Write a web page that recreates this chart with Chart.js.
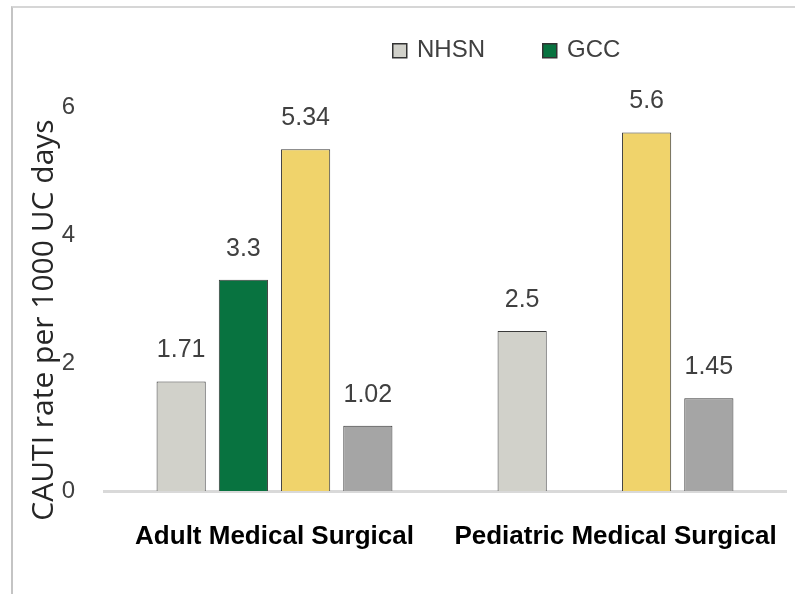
<!DOCTYPE html>
<html>
<head>
<meta charset="utf-8">
<script src="https://cdn.jsdelivr.net/npm/chart.js@4/dist/chart.umd.min.js"></script>
<style>
  body { margin: 0; background: #fff; }
  #wrap { position: relative; width: 795px; height: 594px; overflow: hidden; }
  #frame {
    position: absolute; left: 11px; top: 6px; width: 900px; height: 700px;
    border-left: 2px solid #c4c4c4; border-top: 2px solid #d6d6d6;
  }
  canvas { position: absolute; left: 0; top: 0; }
</style>
</head>
<body>
<div id="wrap">
  <div id="frame"></div>
  <canvas id="chart" width="795" height="594"></canvas>
</div>
<script>
const categories = ["Adult Medical Surgical", "Pediatric Medical Surgical"];
const nhsnValues = [1.71, 2.5];
const gccValues = [3.3, null];
const series3Values = [5.34, 5.6];
const series4Values = [1.02, 1.45];
const yTicks = [0, 2, 4, 6];

const sans = "'Liberation Sans', Arial, sans-serif";
const textColor = "#404040";

// value labels above each bar
const valueLabels = {
  id: "valueLabels",
  afterDatasetsDraw(chart) {
    const ctx = chart.ctx;
    ctx.save();
    ctx.font = "25px " + sans;
    ctx.fillStyle = textColor;
    ctx.textAlign = "center";
    ctx.textBaseline = "middle";
    chart.data.datasets.forEach((ds, i) => {
      chart.getDatasetMeta(i).data.forEach((bar, j) => {
        const v = ds.data[j];
        if (v === null || v === undefined) return;
        ctx.fillText(String(v), bar.x, bar.y - 31);
      });
    });
    ctx.restore();
  }
};

// legend only shows the first two series, sits right of centre
const sideLegend = {
  id: "sideLegend",
  afterDraw(chart) {
    const ctx = chart.ctx;
    const items = [
      { ds: chart.data.datasets[0], x: 392 },
      { ds: chart.data.datasets[1], x: 542 }
    ];
    ctx.save();
    ctx.font = "24px " + sans;
    ctx.textBaseline = "middle";
    items.forEach(it => {
      ctx.fillStyle = it.ds.backgroundColor;
      ctx.strokeStyle = "#333";
      ctx.lineWidth = 1.5;
      ctx.fillRect(it.x, 43, 15, 15);
      ctx.strokeRect(it.x + 0.75, 43.75, 14, 14);
      ctx.fillStyle = textColor;
      ctx.fillText(it.ds.label, it.x + 25, 50);
    });
    ctx.restore();
  }
};

// y axis title drawn a little below centre like the original
const yTitle = {
  id: "yTitle",
  afterDraw(chart) {
    const ctx = chart.ctx;
    ctx.save();
    ctx.translate(53, 320);
    ctx.rotate(-Math.PI / 2);
    ctx.font = "30px 'Open Sans', sans-serif";
    ctx.fillStyle = "#262626";
    ctx.textAlign = "center";
    ctx.textBaseline = "alphabetic";
    ctx.fillText("CAUTI rate per 1000 UC days", 0, 0);
    ctx.restore();
  }
};

new Chart(document.getElementById("chart"), {
  type: "bar",
  data: {
    labels: categories,
    datasets: [
      { label: "NHSN", data: nhsnValues, backgroundColor: "#d1d1ca" },
      { label: "GCC", data: gccValues, backgroundColor: "#087340" },
      { label: "Series 3", data: series3Values, backgroundColor: "#f0d36b" },
      { label: "Series 4", data: series4Values, backgroundColor: "#a5a5a5" }
    ].map(d => Object.assign(d, {
      borderColor: "#3a3a3a",
      borderWidth: 1,
      categoryPercentage: 0.73,
      barPercentage: 0.79
    }))
  },
  options: {
    responsive: false,
    animation: false,
    layout: { padding: { left: 0, top: 107, right: 9, bottom: 0 } },
    plugins: {
      legend: { display: false },
      tooltip: { enabled: false }
    },
    scales: {
      x: {
        grid: { display: false },
        border: { display: true, color: "#d9d9d9", width: 3 },
        ticks: {
          color: "#000",
          padding: 22,
          font: { family: sans, size: 26, weight: "bold" }
        },
        afterFit: s => {
          s.height = 103;
          s.paddingLeft = 0;
          s.paddingRight = 0;
        }
      },
      y: {
        min: 0,
        max: 6,
        afterBuildTicks: s => { s.ticks = yTicks.map(v => ({ value: v })); },
        grid: { display: false, drawTicks: false },
        border: { display: false },
        ticks: {
          color: textColor,
          padding: 29,
          font: { family: sans, size: 24 }
        },
        afterFit: s => { s.width = 104; }
      }
    }
  },
  plugins: [valueLabels, sideLegend, yTitle]
});
</script>
</body>
</html>
